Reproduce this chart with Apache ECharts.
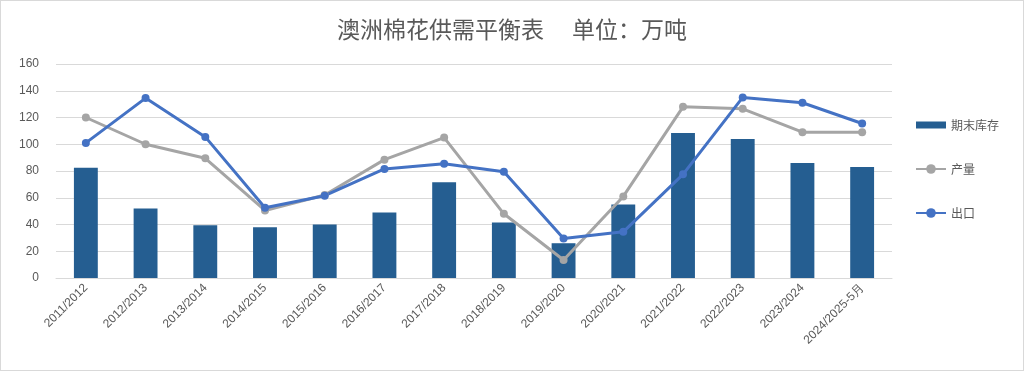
<!DOCTYPE html>
<html><head><meta charset="utf-8">
<script src="https://cdn.jsdelivr.net/npm/echarts@6/dist/echarts.min.js"></script>
<style>html,body{margin:0;padding:0;background:#fff}#c{position:absolute;left:0;top:0;width:1022px;height:369px;border:1px solid #d9d9d9}</style>
</head><body><div id="c"></div>
<script>
const categories = ["2011/2012","2012/2013","2013/2014","2014/2015","2015/2016","2016/2017","2017/2018","2018/2019","2019/2020","2020/2021","2021/2022","2022/2023","2023/2024","2024/2025-5月"];
const endingStocks = [82.5,52,39.5,38,40,49,71.5,41.5,26,55,108.5,104,86,83];
const production = [120,100,89.5,50.5,62,88.5,105,48,13.5,61,128,126.5,109,109];
const exports = [101,134.5,105.5,52.5,61.5,81.5,85.5,79.5,29.5,34.5,77.5,135,131,115.5];
const yTicks = [0,20,40,60,80,100,120,140,160];

const chart = echarts.init(document.getElementById('c'));
chart.setOption({
  animation:false,
  title:{text:'澳洲棉花供需平衡表　 单位：万吨',left:'center',top:12,
    textStyle:{fontFamily:'Noto Sans CJK SC',fontSize:23,fontWeight:'normal',color:'#595959'}},
  grid:{left:55,right:131,top:63,bottom:92,containLabel:false},
  legend:{orient:'vertical',left:909,top:113,itemGap:32,itemWidth:30,itemHeight:12,
    textStyle:{fontFamily:'Noto Sans CJK SC',fontSize:12,color:'#595959'},
    data:[{name:'期末库存',icon:'path://M0,0H30V7H0Z'},{name:'产量'},{name:'出口'}]},
  xAxis:{type:'category',data:categories,
    axisLine:{lineStyle:{color:'#d9d9d9'}},axisTick:{show:false},
    axisLabel:{rotate:45,interval:0,fontSize:12,color:'#595959',fontFamily:'Liberation Sans',margin:8}},
  yAxis:{type:'value',min:0,max:160,interval:20,
    axisLine:{show:false},axisTick:{show:false},
    splitLine:{lineStyle:{color:'#d9d9d9',width:1}},
    axisLabel:{fontSize:12,color:'#595959',fontFamily:'Liberation Sans',margin:17,
      formatter:v=>yTicks.includes(v)?String(v):''}},
  series:[
    {name:'期末库存',type:'bar',data:endingStocks,barWidth:'40%',itemStyle:{color:'#255E91'}},
    {name:'产量',type:'line',data:production,symbol:'circle',symbolSize:8,
      lineStyle:{color:'#A5A5A5',width:3},itemStyle:{color:'#A5A5A5'}},
    {name:'出口',type:'line',data:exports,symbol:'circle',symbolSize:8,
      lineStyle:{color:'#4472C4',width:3},itemStyle:{color:'#4472C4'}}
  ]
});
</script></body></html>
